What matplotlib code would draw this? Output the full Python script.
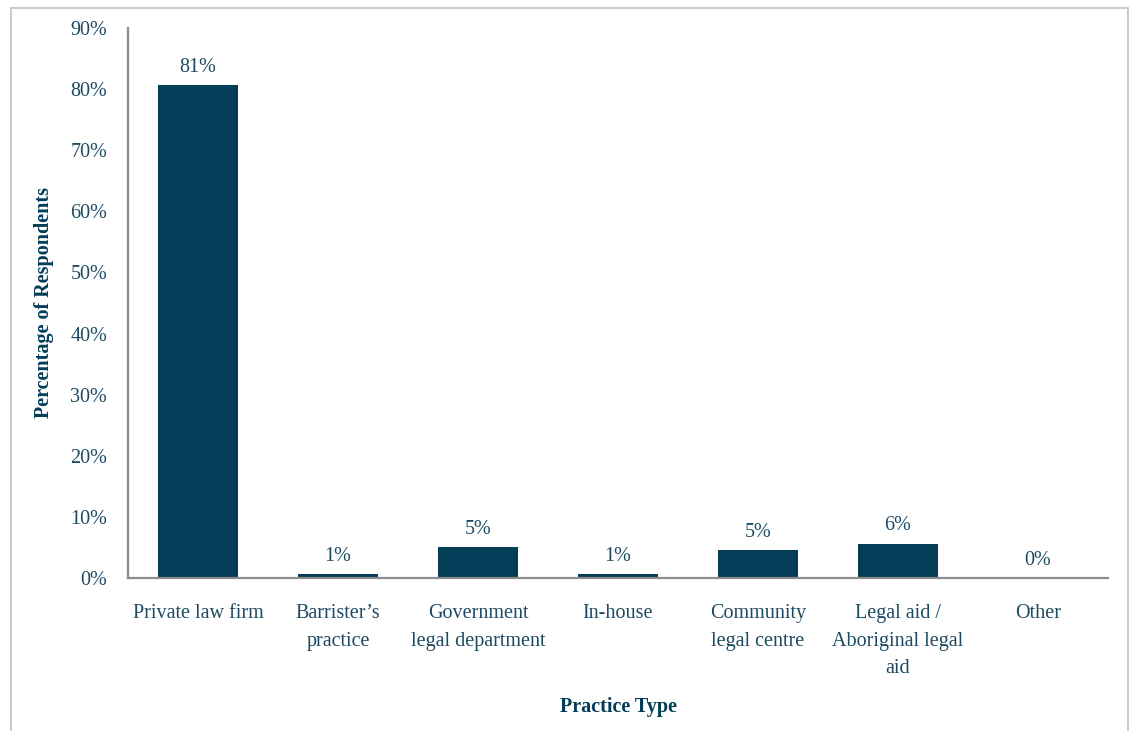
import matplotlib
matplotlib.use("Agg")
import matplotlib.pyplot as plt
from matplotlib.patches import Rectangle
from matplotlib.ticker import MultipleLocator, FuncFormatter

# practice type breakdown (percent of respondents)
categories = [
    "Private law firm",
    "Barrister\u2019s\npractice",
    "Government\nlegal department",
    "In-house",
    "Community\nlegal centre",
    "Legal aid /\nAboriginal legal\naid",
    "Other",
]
percentages = [80.6, 0.6, 5.0, 0.6, 4.6, 5.6, 0.0]

BAR_COLOR = "#043d58"
TEXT_COLOR = "#1d4a63"
AXIS_COLOR = "#8c8c8c"
FS = 14.5

plt.rcParams["font.family"] = ["Liberation Serif", "DejaVu Serif"]

fig = plt.figure(figsize=(11.32, 7.31), dpi=100)
ax = fig.add_axes([128 / 1132, 1 - 578 / 731, 980 / 1132, 550 / 731])

x = list(range(len(categories)))
bars = ax.bar(x, percentages, width=0.57, color=BAR_COLOR, zorder=2)

for xi, v in zip(x, percentages):
    ax.annotate(f"{v:.0f}%", xy=(xi, v), xytext=(0, 6), textcoords="offset points",
                ha="center", va="bottom", fontsize=FS, color=TEXT_COLOR)

ax.set_xlim(-0.5, len(categories) - 0.5)
ax.set_ylim(0, 90)
ax.yaxis.set_major_locator(MultipleLocator(10))
ax.yaxis.set_major_formatter(FuncFormatter(lambda v, _: f"{v:.0f}%"))

ax.set_xticks(x)
ax.set_xticklabels(categories, fontsize=FS, color=TEXT_COLOR, linespacing=1.6)
ax.tick_params(axis="x", length=0, pad=19)
ax.tick_params(axis="y", length=0, pad=15, labelsize=FS, labelcolor=TEXT_COLOR)

for side in ("top", "right"):
    ax.spines[side].set_visible(False)
for side in ("left", "bottom"):
    ax.spines[side].set_color(AXIS_COLOR)
    ax.spines[side].set_linewidth(1.6)

ax.set_ylabel("Percentage of Respondents", fontsize=FS, fontweight="bold",
              color=BAR_COLOR, labelpad=12)
ax.set_xlabel("Practice Type", fontsize=FS, fontweight="bold", color=BAR_COLOR)
ax.xaxis.set_label_coords(0.5, -(697 - 578) / 550)

# light frame around the chart area
fig.patches.append(Rectangle((11 / 1132, -0.1), (1128 - 11) / 1132, 1.1 - 8 / 731,
                             transform=fig.transFigure, fill=False,
                             edgecolor="#c4c6c8", linewidth=1.3))

fig.savefig("out.png", dpi=100)
